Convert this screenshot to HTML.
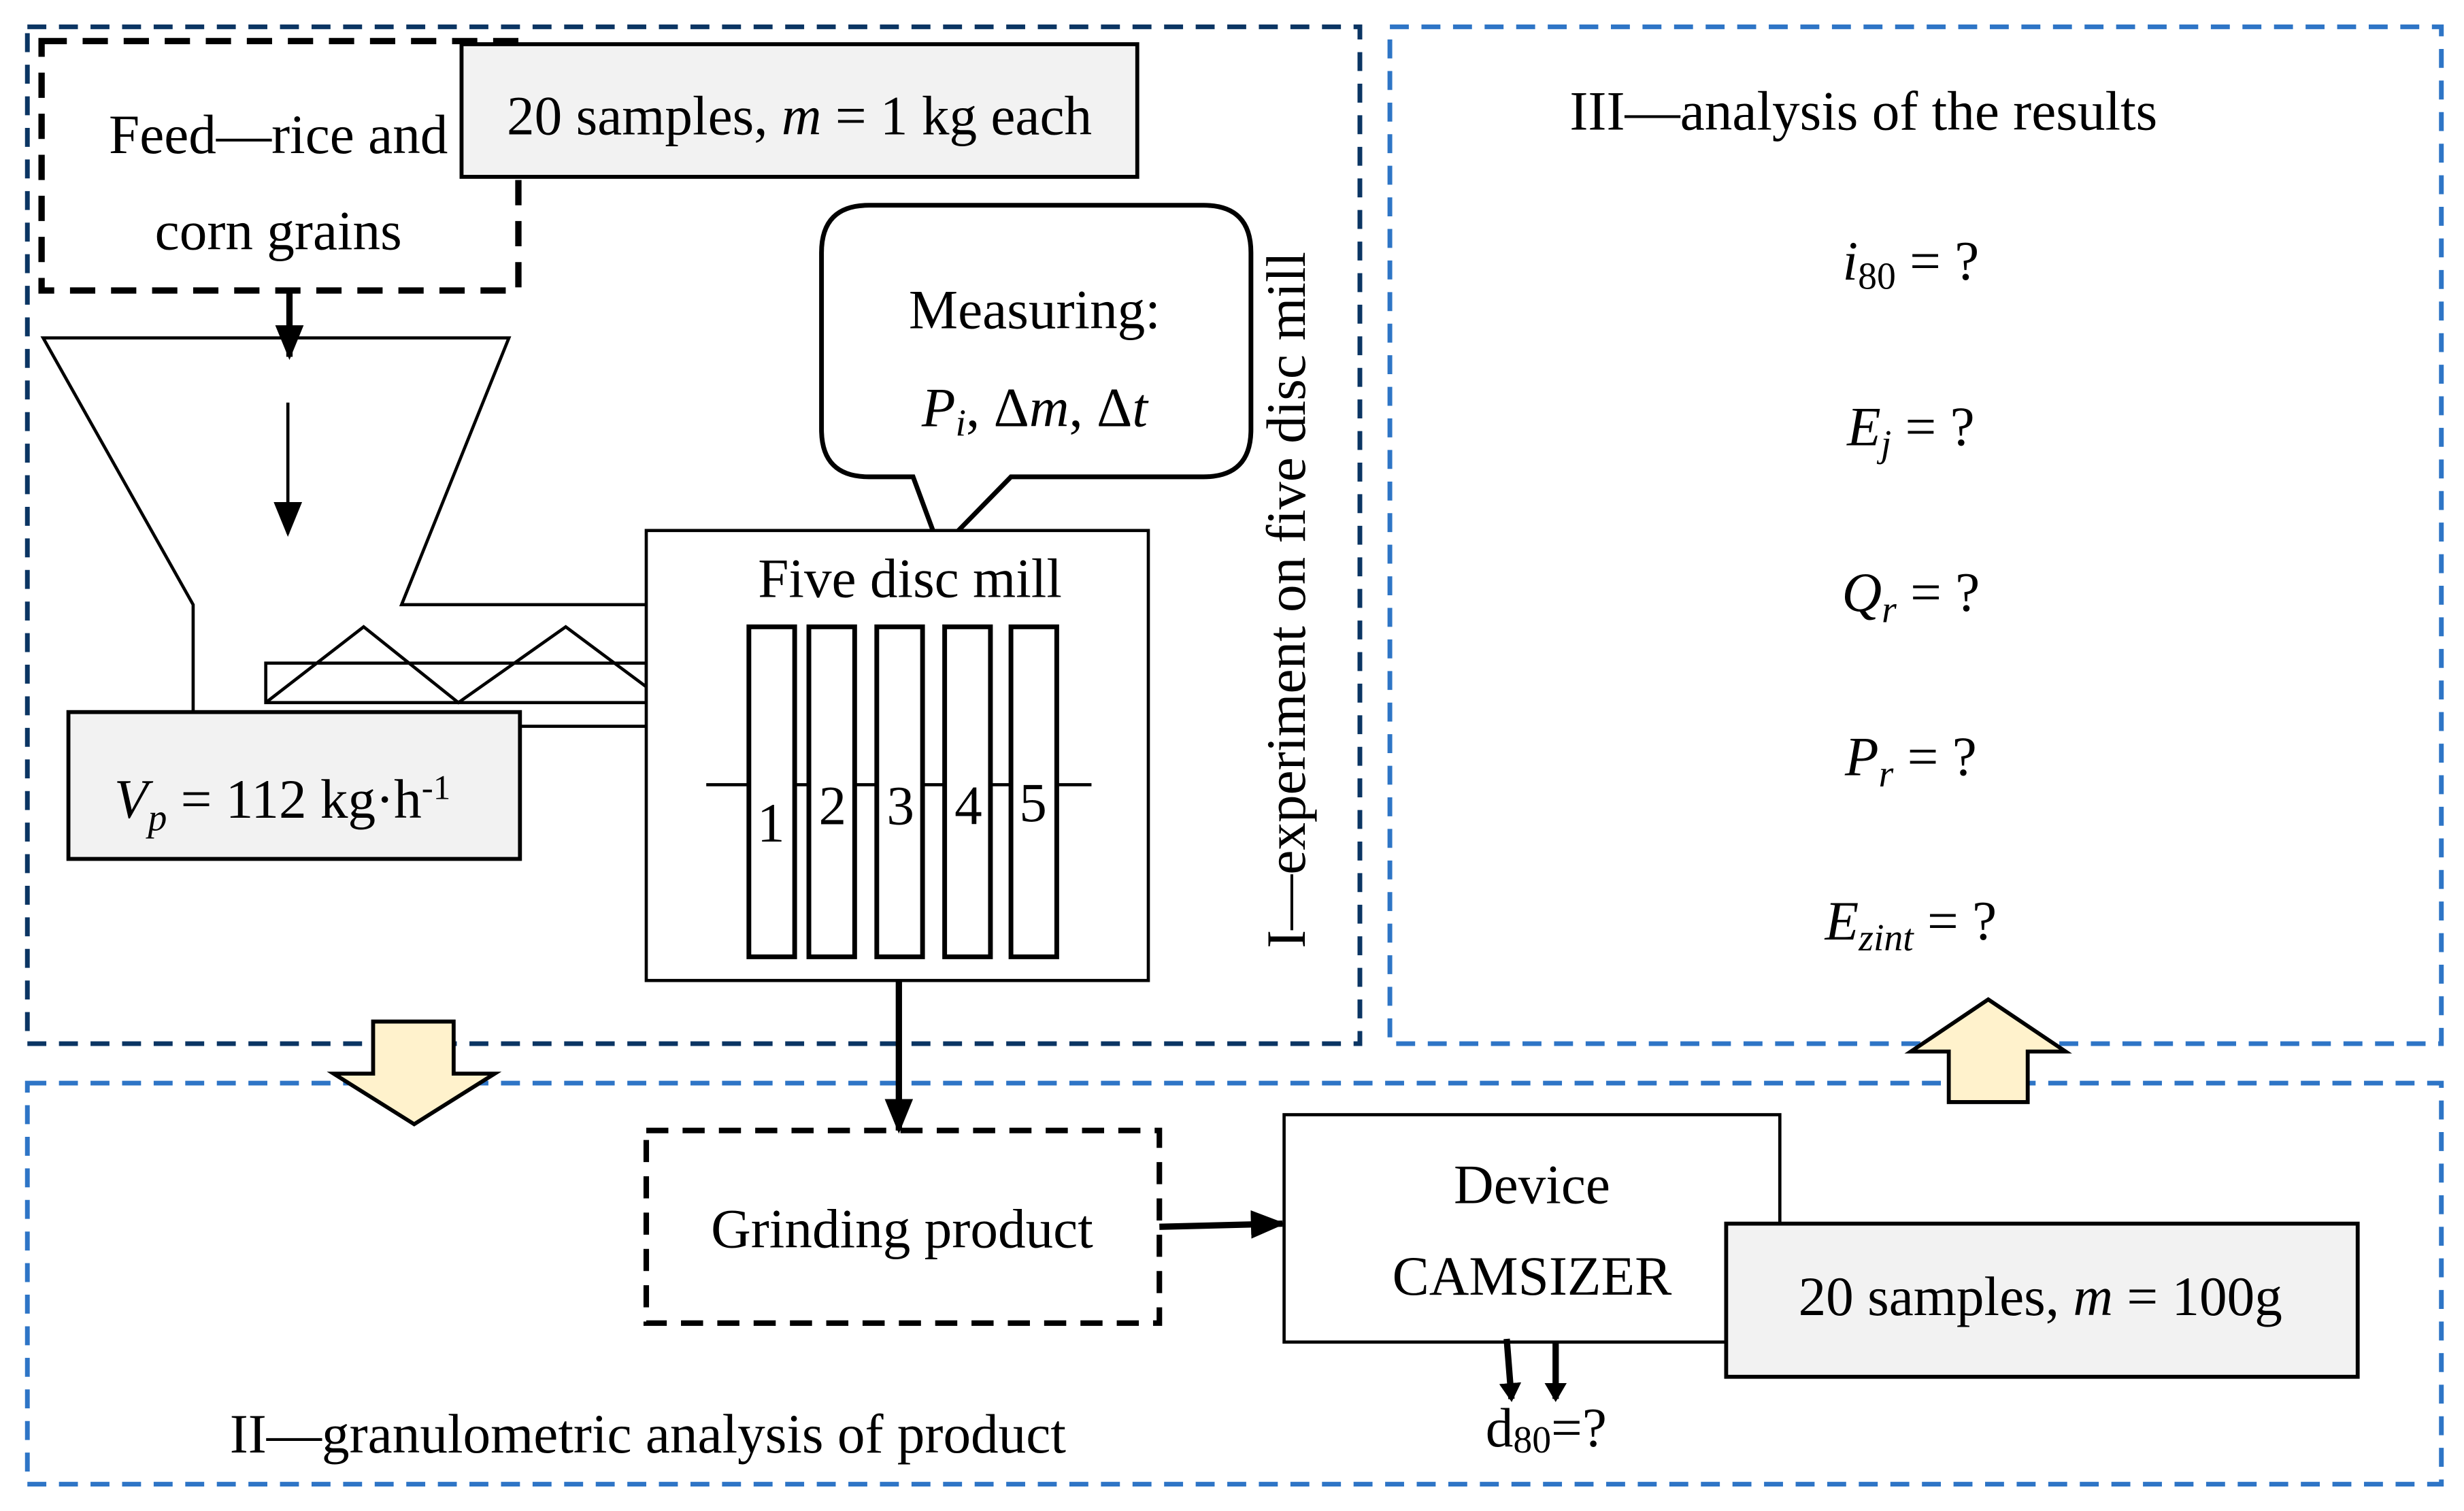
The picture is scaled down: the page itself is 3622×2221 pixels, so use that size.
<!DOCTYPE html>
<html><head><meta charset="utf-8"><style>
html,body{margin:0;padding:0;background:#fff;}
svg{display:block;}
text{font-family:"Liberation Serif",serif;font-size:35px;fill:#000;}
</style></head><body>
<svg width="3622" height="2221" viewBox="0 0 1560 957" xmlns="http://www.w3.org/2000/svg">
<defs>
<marker id="ah" markerWidth="12" markerHeight="14" refX="10" refY="7" orient="auto" markerUnits="userSpaceOnUse"><path d="M0,0 L12,7 L0,14 z" fill="#000"/></marker>
<marker id="ah2" markerWidth="22" markerHeight="18" refX="20" refY="9" orient="auto" markerUnits="userSpaceOnUse"><path d="M0,0 L22,9 L0,18 z" fill="#000"/></marker>
</defs>
<rect width="1560" height="957" fill="#fff"/>
<rect x="17" y="17" width="844" height="644" fill="none" stroke="#0b3563" stroke-width="3" stroke-dasharray="12,8"/>
<rect x="880" y="17" width="666" height="644" fill="none" stroke="#2e75c6" stroke-width="3" stroke-dasharray="12,8"/>
<rect x="17" y="686" width="1529" height="254" fill="none" stroke="#2e75c6" stroke-width="3" stroke-dasharray="12,8"/>
<rect x="26" y="26" width="302" height="158" fill="none" stroke="#000" stroke-width="4" stroke-dasharray="16,10"/>
<text x="176" y="97" text-anchor="middle">Feed—rice and</text>
<text x="176" y="158" text-anchor="middle">corn grains</text>
<rect x="292" y="28" width="428" height="84" fill="#f2f2f2" stroke="#000" stroke-width="2.5"/>
<text x="506" y="85" text-anchor="middle">20 samples, <tspan font-style="italic">m</tspan> = 1 kg each</text>
<line x1="183" y1="184" x2="183" y2="226" stroke="#000" stroke-width="4" marker-end="url(#ah2)"/>
<path d="M122,450 L122,383 L27,214 L322,214 L254,383 L409,383" fill="none" stroke="#000" stroke-width="2"/>
<line x1="182" y1="255" x2="182" y2="338" stroke="#000" stroke-width="2" marker-end="url(#ah2)"/>
<rect x="168" y="420" width="241" height="25" fill="none" stroke="#000" stroke-width="2"/>
<path d="M168,445 L230,397 L290,445 L358,397 L409,435" fill="none" stroke="#000" stroke-width="2"/>
<line x1="329" y1="460" x2="409" y2="460" stroke="#000" stroke-width="2"/>
<rect x="43" y="451" width="286" height="93" fill="#f2f2f2" stroke="#000" stroke-width="2.5"/>
<text x="72" y="518"><tspan font-style="italic">V<tspan font-size="24" dy="8">p</tspan></tspan><tspan dy="-8"> = 112 kg·h</tspan><tspan font-size="22" dy="-12">-1</tspan></text>
<path d="M550,130 L762,130 Q792,130 792,160 L792,272 Q792,302 762,302 L640,302 L595,348 L578,302 L550,302 Q520,302 520,272 L520,160 Q520,130 550,130 Z" fill="#fff" stroke="#000" stroke-width="3"/>
<text x="655" y="208" text-anchor="middle">Measuring:</text>
<text x="655" y="270" text-anchor="middle"><tspan font-style="italic">P<tspan font-size="24" dy="6">i</tspan></tspan><tspan dy="-6">, Δ</tspan><tspan font-style="italic">m</tspan>, Δ<tspan font-style="italic">t</tspan></text>
<rect x="409" y="336" width="318" height="285" fill="#fff" stroke="#000" stroke-width="2"/>
<text x="576" y="378" text-anchor="middle">Five disc mill</text>
<line x1="447" y1="497" x2="691" y2="497" stroke="#000" stroke-width="2"/>
<g fill="#fff" stroke="#000" stroke-width="3">
<rect x="474" y="397" width="29" height="209"/><rect x="512" y="397" width="29" height="209"/><rect x="555" y="397" width="29" height="209"/><rect x="598" y="397" width="29" height="209"/><rect x="640" y="397" width="29" height="209"/>
</g>
<text x="488" y="533" text-anchor="middle">1</text><text x="527" y="522" text-anchor="middle">2</text><text x="570" y="522" text-anchor="middle">3</text><text x="613" y="522" text-anchor="middle">4</text><text x="654" y="520" text-anchor="middle">5</text>
<text transform="translate(826,380) rotate(-90)" text-anchor="middle">I—experiment on five disc mill</text>
<line x1="569" y1="621" x2="569" y2="716" stroke="#000" stroke-width="4" marker-end="url(#ah2)"/>
<path d="M236,647 L287,647 L287,680 L313,680 L262,712 L211,680 L236,680 Z" fill="#fff2cc" stroke="#000" stroke-width="2.5"/>
<path d="M1259,633 L1308,666 L1284,666 L1284,698 L1234,698 L1234,666 L1210,666 Z" fill="#fff2cc" stroke="#000" stroke-width="2.5"/>
<rect x="409" y="716" width="325" height="122" fill="none" stroke="#000" stroke-width="3.5" stroke-dasharray="14,9"/>
<text x="571" y="790" text-anchor="middle">Grinding product</text>
<line x1="734" y1="777" x2="812" y2="775" stroke="#000" stroke-width="4" marker-end="url(#ah2)"/>
<rect x="813" y="706" width="314" height="144" fill="#fff" stroke="#000" stroke-width="2"/>
<text x="970" y="762" text-anchor="middle">Device</text>
<text x="970" y="820" text-anchor="middle">CAMSIZER</text>
<rect x="1093" y="775" width="400" height="97" fill="#f2f2f2" stroke="#000" stroke-width="2.5"/>
<text x="1292" y="833" text-anchor="middle">20 samples, <tspan font-style="italic">m</tspan> = 100g</text>
<line x1="954" y1="848" x2="957" y2="886" stroke="#000" stroke-width="4" marker-end="url(#ah)"/>
<line x1="985" y1="850" x2="985" y2="886" stroke="#000" stroke-width="4" marker-end="url(#ah)"/>
<text x="979" y="916" text-anchor="middle">d<tspan font-size="24" dy="4">80</tspan><tspan dy="-4">=?</tspan></text>
<text x="410" y="920" text-anchor="middle">II—granulometric analysis of product</text>
<text x="1180" y="82" text-anchor="middle">III—analysis of the results</text>
<text x="1210" y="177" text-anchor="middle"><tspan font-style="italic">i</tspan><tspan font-size="24" dy="6">80</tspan><tspan dy="-6"> = ?</tspan></text>
<text x="1210" y="282" text-anchor="middle"><tspan font-style="italic">E<tspan font-size="24" dy="7">j</tspan></tspan><tspan dy="-7"> = ?</tspan></text>
<text x="1210" y="387" text-anchor="middle"><tspan font-style="italic">Q<tspan font-size="24" dy="7">r</tspan></tspan><tspan dy="-7"> = ?</tspan></text>
<text x="1210" y="491" text-anchor="middle"><tspan font-style="italic">P<tspan font-size="24" dy="7">r</tspan></tspan><tspan dy="-7"> = ?</tspan></text>
<text x="1210" y="595" text-anchor="middle"><tspan font-style="italic">E<tspan font-size="24" dy="7">zint</tspan></tspan><tspan dy="-7"> = ?</tspan></text>
</svg>
</body></html>
